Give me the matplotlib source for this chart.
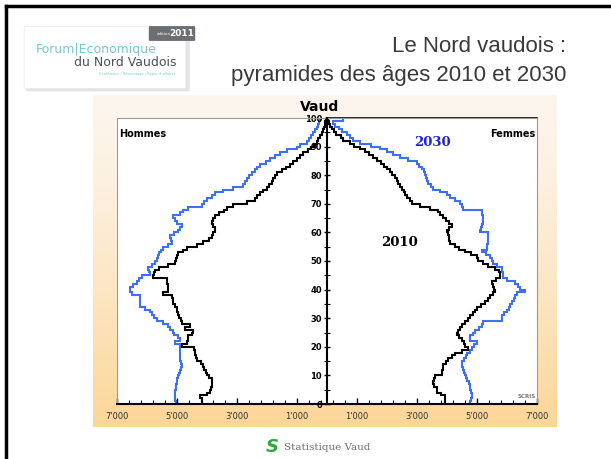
import numpy as np
import matplotlib.pyplot as plt
from matplotlib.patches import FancyBboxPatch
from matplotlib.ticker import FixedLocator, FuncFormatter

# population per single year of age (0..100)
ages = np.arange(0, 101)

men_2010 = np.array([
    4180, 4180, 4230, 4000, 3900, 3880, 3850, 3840, 3850, 3950,
    4010, 4050, 4100, 4120, 4200, 4340, 4380, 4390, 4400, 4420,
    4840, 4680, 4650, 4620, 4500, 4460, 4730, 4570, 4840, 4870,
    4920, 4960, 4990, 5010, 5080, 5120, 5150, 5180, 5460, 5290,
    5290, 5310, 5330, 5340, 5790, 5780, 5740, 5600, 5300, 5070,
    5050, 5010, 4960, 4800, 4680, 4340, 4120, 3950, 3840, 3800,
    3740, 3730, 3800, 3840, 3790, 3730, 3600, 3440, 3340, 3120,
    2680, 2400, 2340, 2230, 2120, 2010, 1950, 1840, 1800, 1740,
    1680, 1510, 1380, 1230, 1120, 1010, 900, 790, 620, 540,
    440, 344, 290, 240, 180, 150, 110, 80, 60, 40,
    30])

men_2030 = np.array([
    5050, 5060, 5070, 5070, 5060, 5040, 5020, 5010, 4990, 4970,
    4950, 4900, 4870, 4840, 4860, 4890, 4900, 4900, 4910, 4900,
    4890, 5070, 4900, 4980, 5100, 5150, 5220, 5290, 5480, 5680,
    5760, 5830, 5900, 6050, 6230, 6230, 6240, 6230, 6500, 6560,
    6570, 6450, 6340, 6250, 6180, 5900, 5950, 5960, 5850, 5730,
    5680, 5640, 5600, 5520, 5460, 5300, 5180, 5200, 5230, 5100,
    4960, 4900, 4840, 5010, 5080, 5120, 4900, 4800, 4620, 4180,
    4100, 4010, 3850, 3730, 3460, 3120, 2790, 2740, 2680, 2590,
    2500, 2400, 2320, 2230, 2050, 1900, 1720, 1570, 1340, 1010,
    900, 680, 600, 520, 456, 400, 350, 300, 260, 230,
    150])

women_2010 = np.array([
    3930, 3940, 3930, 3800, 3660, 3650, 3580, 3540, 3560, 3600,
    3820, 3840, 3860, 3880, 3950, 4040, 4150, 4270, 4500, 4710,
    4600, 4550, 4490, 4400, 4320, 4380, 4440, 4490, 4600, 4710,
    4780, 4880, 4940, 4990, 5130, 5270, 5350, 5430, 5520, 5600,
    5560, 5520, 5490, 5630, 5770, 5750, 5720, 5600, 5380, 5200,
    5040, 4990, 4800, 4600, 4400, 4270, 4100, 4080, 4050, 4020,
    3990, 4050, 4156, 4050, 3950, 3878, 3780, 3711, 3433, 3100,
    2822, 2760, 2680, 2600, 2550, 2500, 2433, 2380, 2320, 2267,
    2180, 2100, 2000, 1900, 1800, 1680, 1544, 1400, 1280, 1100,
    900, 750, 544, 450, 300, 220, 160, 110, 70, 40,
    20])

women_2030 = np.array([
    4770, 4800, 4820, 4820, 4800, 4780, 4760, 4720, 4680, 4640,
    4600, 4580, 4540, 4500, 4490, 4560, 4620, 4660, 4750, 4820,
    4900, 4990, 4770, 4770, 4850, 4930, 5050, 5150, 5210, 5820,
    5830, 5900, 5990, 6050, 6100, 6160, 6220, 6280, 6320, 6600,
    6430, 6350, 6270, 6000, 5880, 5860, 5840, 5820, 5650, 5540,
    5500, 5430, 5300, 5160, 5320, 5330, 5350, 5360, 5380, 5380,
    5100, 5120, 5150, 5200, 5210, 5200, 5180, 5160, 4540, 4500,
    4430, 4250, 4100, 3990, 3780, 3540, 3450, 3380, 3320, 3300,
    3260, 3220, 3150, 3050, 2990, 2700, 2430, 2200, 1990, 1760,
    1450, 1100, 880, 780, 650, 500, 400, 270, 200, 530,
    300])

x_labels = [1000, 3000, 5000, 7000]

W, H = 611, 459
fig = plt.figure(figsize=(W / 100, H / 100), dpi=100)
fig.patch.set_facecolor("white")

def fx(px):
    return px / W

def fy(py):
    return 1 - py / H

# slide border (top + left)
fig.add_artist(plt.Line2D([fx(6), fx(611)], [fy(6), fy(6)], color="black", lw=2.5))
fig.add_artist(plt.Line2D([fx(6), fx(6)], [fy(6), fy(459)], color="black", lw=2.5))

# logo block
shadow = FancyBboxPatch((fx(28), fy(90)), fx(160), fy(30) - fy(90),
                        boxstyle="round,pad=0.003", fc="#e4e4e4", ec="none")
fig.add_artist(shadow)
box = FancyBboxPatch((fx(26), fy(87)), fx(158), fy(28) - fy(87),
                     boxstyle="round,pad=0.003", fc="white", ec="#e8e8e8", lw=0.5)
fig.add_artist(box)
bubble = FancyBboxPatch((fx(150), fy(40)), fx(44), fy(27) - fy(40),
                        boxstyle="round,pad=0.002", fc="#6b6e73", ec="none")
fig.add_artist(bubble)
fig.text(fx(164), fy(34), "édition", color="white", fontsize=3,
         ha="center", va="center")
fig.text(fx(182), fy(33.5), "2011", color="white", fontsize=6.5,
         fontweight="bold", ha="center", va="center")
fig.text(fx(36), fy(50), "Forum|Economique", color="#7cc6cf", fontsize=9,
         ha="left", va="center")
fig.text(fx(176), fy(62), "du Nord Vaudois", color="#4d5258", fontsize=9,
         ha="right", va="center")
fig.text(fx(175), fy(74), "Conférence | Réseautage | Repas d'affaires",
         color="#7cc6cf", fontsize=2.5, ha="right", va="center")

# slide title
fig.text(fx(566), fy(46), "Le Nord vaudois :", family="Liberation Sans", fontsize=16,
         color="#3a3a3a", ha="right", va="center")
fig.text(fx(566), fy(75), "pyramides des âges 2010 et 2030", family="Liberation Sans",
         fontsize=16, color="#3a3a3a", ha="right", va="center")

# beige gradient panel behind the chart
bg = fig.add_axes([fx(93), fy(427), fx(557) - fx(93), fy(95) - fy(427)])
t = np.linspace(0, 1, 200)[:, None] ** 1.3
top = np.array([253, 246, 238]) / 255
bot = np.array([252, 214, 152]) / 255
grad = top[None, None, :] * (1 - t[:, :, None]) + bot[None, None, :] * t[:, :, None]
grad = np.repeat(grad, 2, axis=1)
bg.imshow(grad, aspect="auto", extent=[0, 1, 0, 1], origin="upper")
bg.set_axis_off()

# pyramid
ax = fig.add_axes([fx(117), fy(404), fx(537) - fx(117), fy(118) - fy(404)])
ax.set_facecolor("white")
edges = np.clip(np.arange(0, 102), 0, 100.6)
blue = "#3f6ff2"
ax.stairs(-men_2030, edges, orientation="horizontal", baseline=None, color=blue, lw=1.5)
ax.stairs(women_2030, edges, orientation="horizontal", baseline=None, color=blue, lw=1.5)
ax.stairs(-men_2010, edges, orientation="horizontal", baseline=None, color="black", lw=1.5)
ax.stairs(women_2010, edges, orientation="horizontal", baseline=None, color="black", lw=1.5)

ax.set_xlim(-7000, 7000)
ax.set_ylim(0, 100)

ax.spines["left"].set_position(("data", 0))
ax.spines["left"].set_linewidth(1.5)
ax.spines["left"].set_zorder(5)
ax.spines["bottom"].set_linewidth(1.5)
ax.spines["top"].set_color("#999999")
ax.spines["top"].set_linewidth(0.8)
ax.spines["right"].set_color("#999999")
ax.spines["right"].set_linewidth(0.8)
ax.axvline(-7000, color="#999999", lw=0.8)
ax.plot([0, 7000], [100, 100], color="black", lw=1.2, clip_on=False)

ax.yaxis.set_major_locator(FixedLocator(np.arange(0, 101, 10)))
ax.yaxis.set_minor_locator(FixedLocator(np.arange(5, 100, 10)))
ax.tick_params(axis="y", which="major", direction="inout", length=5, width=1,
               labelsize=6, pad=1)
ax.tick_params(axis="y", which="minor", direction="inout", length=4, width=0.8)
for lab in ax.get_yticklabels():
    lab.set_fontweight("bold")

xt = [-v for v in x_labels[::-1]] + x_labels
ax.xaxis.set_major_locator(FixedLocator(xt))
ax.xaxis.set_minor_locator(FixedLocator(np.arange(-7000, 7001, 400)))
ax.xaxis.set_major_formatter(FuncFormatter(lambda v, p: f"{abs(int(v)):,}".replace(",", "'")))
ax.tick_params(axis="x", which="major", direction="in", length=4, width=1,
               labelsize=6, pad=6, labelcolor="#333333")
ax.tick_params(axis="x", which="minor", direction="in", length=3, width=0.8)

ax.text(3500, 91.6, "2030", family="DejaVu Serif", fontweight="bold", fontsize=9.5,
        color="#1f1fe0", ha="center", va="center")
ax.text(2400, 56.6, "2010", family="DejaVu Serif", fontweight="bold", fontsize=9.5,
        color="black", ha="center", va="center")
ax.text(6950, 2.5, "SCRIS", fontsize=4, fontweight="bold", color="#777777",
        ha="right", va="center")

fig.text(fx(320), fy(107), "Vaud", fontsize=10, fontweight="bold", ha="center", va="center")
fig.text(fx(119), fy(134), "Hommes", fontsize=7, fontweight="bold", ha="left", va="center")
fig.text(fx(535), fy(134), "Femmes", fontsize=7, fontweight="bold", ha="right", va="center")

# footer logo
fig.text(fx(272), fy(447), "S", fontsize=13, fontweight="bold", color="#2ea83a",
         ha="center", va="center", style="italic")
fig.text(fx(284), fy(447), "Statistique Vaud", family="DejaVu Serif", fontsize=7.5,
         color="#6e6e6e", ha="left", va="center")

fig.savefig("out.png", dpi=100)
